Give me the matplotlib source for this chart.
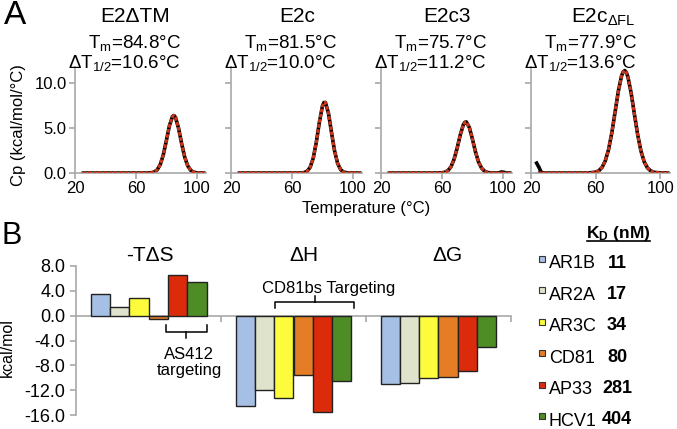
import matplotlib
matplotlib.use('Agg')
import matplotlib.pyplot as plt
from matplotlib.patches import Rectangle
from matplotlib.lines import Line2D

plt.rcParams['font.family'] = ['Liberation Sans', 'DejaVu Sans']
plt.rcParams['mathtext.fontset'] = 'custom'
plt.rcParams['mathtext.rm'] = 'Liberation Sans'
plt.rcParams['mathtext.it'] = 'Liberation Sans:italic'
plt.rcParams['mathtext.bf'] = 'Liberation Sans:bold'
plt.rcParams['axes.unicode_minus'] = False

W, H = 677, 429

# ---- Panel A: DSC curves ----
proteins = ['E2ΔTM', 'E2c', 'E2c3', r'E2c$_{\mathrm{ΔFL}}$']
tm_vals = ['84.8', '81.5', '75.7', '77.9']
dt_half = ['10.6', '10.0', '11.2', '13.6']

temp_1 = [25, 35, 45, 55, 65, 70, 72, 74, 76, 78, 80, 82, 84, 85, 86, 88, 90, 92, 94, 96, 98, 100, 102, 105]
cp_1 = [0, 0, 0, 0, 0, 0.03, 0.11, 0.36, 0.95, 2.04, 3.62, 5.27, 6.30, 6.40, 6.18, 4.97, 3.28, 1.78, 0.80, 0.29, 0.09, 0.02, 0, 0]

temp_2 = [25, 35, 45, 55, 62, 66, 68, 70, 72, 74, 76, 78, 80, 81, 82, 84, 86, 88, 90, 92, 94, 96, 98, 100, 105]
cp_2 = [0, 0, 0, 0, 0, 0.01, 0.05, 0.20, 0.65, 1.66, 3.42, 5.63, 7.43, 7.85, 7.85, 6.64, 4.50, 2.45, 1.07, 0.37, 0.10, 0.03, 0, 0, 0]

temp_3 = [25, 35, 45, 55, 60, 62, 64, 66, 68, 70, 72, 74, 75, 76, 78, 80, 82, 84, 86, 88, 90, 92, 94, 96, 100, 105]
cp_3 = [0, 0, 0, 0, 0.02, 0.09, 0.28, 0.71, 1.54, 2.78, 4.21, 5.35, 5.64, 5.69, 5.07, 3.79, 2.37, 1.24, 0.55, 0.20, 0.06, 0, 0, 0, 0, 0]

temp_4 = [25, 35, 45, 55, 60, 62, 64, 66, 68, 70, 72, 74, 76, 77, 78, 79, 80, 82, 84, 86, 88, 90, 92, 94, 96, 100, 105]
cp_4 = [0, 0, 0, 0, 0.09, 0.26, 0.63, 1.37, 2.62, 4.47, 6.76, 9.08, 10.8, 11.26, 11.4, 11.2, 10.67, 8.86, 6.52, 4.26, 2.47, 1.27, 0.58, 0.24, 0.08, 0.01, 0]

# black baseline artefacts
blip_t3 = [97, 99, 101, 103]
blip_cp3 = [0, 0.15, 0.1, 0]
blip_t4 = [23.5, 25, 26, 27]
blip_cp4 = [1.1, 0.6, 0.2, 0]

temps = [temp_1, temp_2, temp_3, temp_4]
cps = [cp_1, cp_2, cp_3, cp_4]

# ---- Panel B: thermodynamics ----
terms = ['-TΔS', 'ΔH', 'ΔG']
antibodies = ['AR1B', 'AR2A', 'AR3C', 'CD81', 'AP33', 'HCV1']
kd_nm = ['11', '17', '34', '80', '281', '404']
minus_tds = [3.5, 1.4, 2.8, -0.5, 6.6, 5.5]
delta_h = [-14.6, -12.0, -13.2, -9.5, -15.5, -10.5]
delta_g = [-11.0, -10.8, -10.1, -9.8, -8.9, -5.1]
colors = ['#a6bfe4', '#dfe3cc', '#fdfc3c', '#e57d27', '#dc2b0b', '#4e8c25']

GRAY = '#a8a8a8'
RED = '#d7391b'


def fx(px):
    return px / W


def fy(py):
    return 1 - py / H


fig = plt.figure(figsize=(W / 100, H / 100), dpi=100)

lefts = [75, 231, 381, 531]
widths = [131, 131, 131, 139]
for i in range(4):
    ax = fig.add_axes([fx(lefts[i]), fy(173), widths[i] / W, (173 - 67) / H])
    ax.plot(temps[i], cps[i], color='black', lw=2.6, solid_capstyle='round', zorder=2)
    ax.plot(temps[i], cps[i], color=RED, lw=2.2, ls=(0, (1.2, 0.5)), alpha=0.95, zorder=3)
    if i == 2:
        ax.plot(blip_t3, blip_cp3, color='black', lw=2.2, zorder=2)
    if i == 3:
        ax.plot(blip_t4, blip_cp4, color='black', lw=2.6, zorder=2)
    ax.set_xlim(20, 106)
    ax.set_ylim(0, 11.8)
    ax.set_xticks([20, 60, 100])
    ax.set_yticks([0, 5, 10])
    for s in ['top', 'right']:
        ax.spines[s].set_visible(False)
    for s in ['left', 'bottom']:
        ax.spines[s].set_color(GRAY)
        ax.spines[s].set_linewidth(1.2)
    ax.tick_params(colors=GRAY, labelcolor='black', labelsize=12, length=4, width=1.2, pad=2)
    if i == 0:
        ax.set_yticklabels(['0.0', '5.0', '10.0'])
    else:
        ax.set_yticklabels([])
    ax.set_xticklabels(['20', '60', '100'])

title_x = [135, 297, 447, 603]
for i in range(4):
    fig.text(fx(title_x[i]), fy(17), proteins[i], ha='center', va='center', fontsize=15)
    r = lefts[i] + 106
    fig.text(fx(r), fy(43), r'T$_{\mathrm{m}}$=' + tm_vals[i] + '°C', ha='right', va='center', fontsize=13.5)
    fig.text(fx(r), fy(63), r'ΔT$_{\mathrm{1/2}}$=' + dt_half[i] + '°C', ha='right', va='center', fontsize=13.5)

fig.text(fx(15), fy(15), 'A', ha='center', va='center', fontsize=24)
fig.text(fx(19), fy(125), 'Cp (kcal/mol/°C)', rotation=90, ha='center', va='center', fontsize=12)
fig.text(fx(366), fy(208), 'Temperature (°C)', ha='center', va='center', fontsize=12)

# ---- Panel B ----
axb = fig.add_axes([fx(76), fy(415), (511 - 76) / W, (415 - 266) / H])
n = len(antibodies)
bw = 0.8 / n
series = [minus_tds, delta_h, delta_g]
for j in range(n):
    vals = [s[j] for s in series]
    xs = [k + (j - (n - 1) / 2) * bw for k in range(len(terms))]
    axb.bar(xs, vals, width=bw, color=colors[j], edgecolor='#222222', linewidth=1.0, zorder=3)

axb.set_xlim(-0.5, 2.5)
axb.set_ylim(-16, 8)
axb.set_yticks([8, 4, 0, -4, -8, -12, -16])
axb.set_yticklabels(['8.0', '4.0', '0.0', '-4.0', '-8.0', '-12.0', '-16.0'])
axb.spines['top'].set_visible(False)
axb.spines['right'].set_visible(False)
axb.spines['bottom'].set_position(('data', 0))
axb.spines['bottom'].set_color(GRAY)
axb.spines['bottom'].set_linewidth(1.2)
axb.spines['bottom'].set_zorder(1)
axb.spines['left'].set_color(GRAY)
axb.spines['left'].set_linewidth(1.2)
axb.set_xticks([0.5, 1.5, 2.5])
axb.set_xticklabels([])
axb.tick_params(axis='x', colors=GRAY, length=4, width=1.2, direction='out')
axb.tick_params(axis='y', colors=GRAY, labelcolor='black', labelsize=13, length=4, width=1.2)
axb.set_ylabel('kcal/mol', fontsize=11.5, labelpad=2)
axb.yaxis.set_label_coords(-0.14, 0.45)

term_x = [0.01, 1.07, 2.06]
for k in range(len(terms)):
    axb.text(term_x[k], 9.7, terms[k], ha='center', va='center', fontsize=15, clip_on=False)

# AS412 bracket
axb.plot([0.12, 0.12, 0.40, 0.40], [-1.5, -2.6, -2.6, -1.5], color='black', lw=1.1, clip_on=False, zorder=4)
axb.plot([0.26, 0.26], [-2.6, -3.6], color='black', lw=1.1, clip_on=False, zorder=4)
axb.text(0.28, -7.5, 'AS412\ntargeting', ha='center', va='center', fontsize=12, linespacing=1.1)

# CD81bs bracket
axb.plot([0.87, 0.87, 1.42, 1.42], [1.2, 2.2, 2.2, 1.2], color='black', lw=1.1, clip_on=False, zorder=4)
axb.plot([1.145, 1.145], [2.2, 3.2], color='black', lw=1.1, clip_on=False, zorder=4)
axb.text(1.245, 4.4, 'CD81bs Targeting', ha='center', va='center', fontsize=12)

fig.text(fx(12), fy(236), 'B', ha='center', va='center', fontsize=22)

# legend with KD values
fig.text(fx(618), fy(233), r'$\mathbf{K_D}$ (nM)', ha='center', va='center', fontsize=12.5, fontweight='bold')
fig.add_artist(Line2D([fx(587), fx(650)], [fy(241), fy(241)], color='black', lw=1.2))
for j in range(n):
    yc = 263 + j * 31.4
    fig.add_artist(Rectangle((fx(539), fy(yc - 1)), 6 / W, 6 / H, facecolor=colors[j],
                             edgecolor='#333333', linewidth=0.8, transform=fig.transFigure))
    fig.text(fx(549), fy(yc + 1), antibodies[j], ha='left', va='center', fontsize=13)
    fig.text(fx(617), fy(yc), kd_nm[j], ha='center', va='center', fontsize=13, fontweight='bold')

fig.savefig('out.png', dpi=100)
